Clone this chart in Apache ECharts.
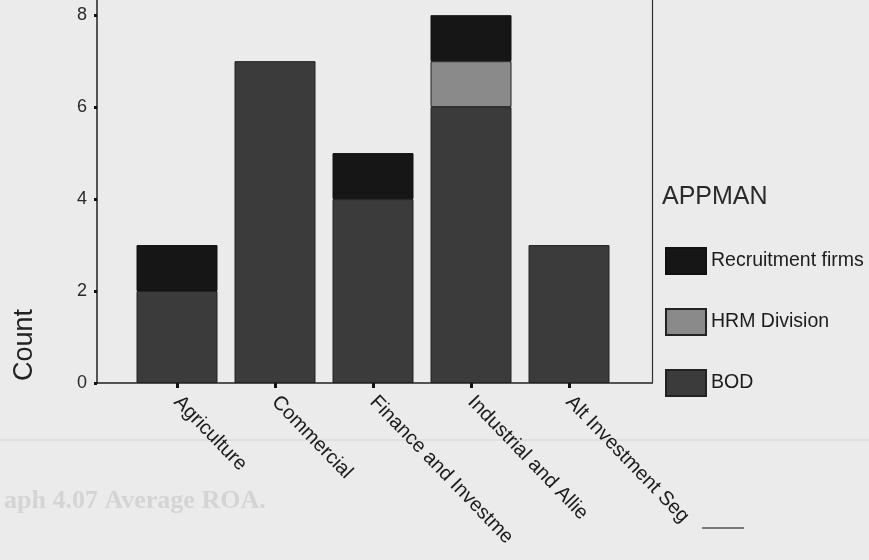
<!DOCTYPE html>
<html>
<head>
<meta charset="utf-8">
<script src="https://cdn.jsdelivr.net/npm/echarts@6/dist/echarts.min.js"></script>
<style>
  html, body { margin: 0; padding: 0; background: #ebebeb; }
  #chart { width: 869px; height: 560px; }
</style>
</head>
<body>
<div id="chart"></div>
<script>
// Sectors on the x axis
const categories = ['Agriculture', 'Commercial', 'Finance and Investme', 'Industrial and Allie', 'Alt Investment Seg'];

// Counts per appointing body (APPMAN), stacked bottom to top
const bod = [2, 7, 4, 6, 3];
const hrmDivision = [0, 0, 0, 1, 0];
const recruitmentFirms = [1, 0, 1, 1, 0];

// Y axis ticks
const yTicks = [0, 2, 4, 6, 8];

const legendTitle = 'APPMAN';
const yName = 'Count';

const FONT = '"Liberation Sans", Arial, sans-serif';
const INK = '#1c1c1c';
const Y_MAX = 8.33;

// empty stack segments are left out so they leave no outline
const seg = arr => arr.map(v => (v === 0 ? null : v));

const chart = echarts.init(document.getElementById('chart'), null, { renderer: 'canvas' });

chart.setOption({
  backgroundColor: '#ebebeb',
  animation: false,
  textStyle: { fontFamily: FONT },
  title: {
    text: legendTitle,
    left: 657,
    top: 180,
    textStyle: { fontFamily: FONT, fontSize: 25, fontWeight: 'normal', color: '#2a2a2a' }
  },
  legend: {
    orient: 'vertical',
    left: 665,
    top: 247,
    padding: 0,
    itemWidth: 40,
    itemHeight: 26,
    itemGap: 33,
    icon: 'rect',
    data: ['Recruitment firms', 'HRM Division', 'BOD'],
    textStyle: { fontFamily: FONT, fontSize: 19.5, color: INK, lineHeight: 26 }
  },
  grid: [
    // frame with the value axis
    { left: 97, right: 217, top: 0, bottom: 177 },
    // bars
    { left: 128, width: 490, top: 0, bottom: 177 }
  ],
  xAxis: [
    {
      gridIndex: 0, type: 'value', min: 0, max: 1,
      axisLine: { show: true, lineStyle: { color: '#202020', width: 1.5 } },
      axisTick: { show: false }, axisLabel: { show: false }, splitLine: { show: false }
    },
    {
      gridIndex: 1, type: 'category', data: categories,
      axisLine: { show: false },
      axisTick: { show: true, alignWithLabel: true, length: 5, lineStyle: { color: '#111', width: 3 } },
      axisLabel: {
        rotate: -46, margin: 16, fontFamily: FONT, fontSize: 20, color: INK, interval: 0
      },
      splitLine: { show: false }
    }
  ],
  yAxis: [
    {
      gridIndex: 0, type: 'value', min: 0, max: Y_MAX, interval: 2,
      axisLine: { show: true, lineStyle: { color: '#202020', width: 1.5 } },
      axisTick: { show: true, length: 3, lineStyle: { color: '#111', width: 3 } },
      axisLabel: {
        show: true, margin: 10, fontFamily: FONT, fontSize: 18, color: '#2a2a2a',
        showMaxLabel: false,
        formatter: v => (yTicks.includes(v) ? String(v) : '')
      },
      splitLine: { show: false }
    },
    {
      // right edge of the frame
      gridIndex: 0, type: 'value', min: 0, max: Y_MAX, position: 'right',
      axisLine: { show: true, lineStyle: { color: '#303030', width: 1.2 } },
      axisTick: { show: false }, axisLabel: { show: false }, splitLine: { show: false }
    },
    {
      gridIndex: 1, type: 'value', min: 0, max: Y_MAX, show: false
    }
  ],
  series: [
    {
      name: 'BOD', type: 'bar', stack: 'appman', xAxisIndex: 1, yAxisIndex: 2,
      barWidth: 81, data: seg(bod),
      itemStyle: { color: '#3b3b3b', borderColor: '#222', borderWidth: 1 }
    },
    {
      name: 'HRM Division', type: 'bar', stack: 'appman', xAxisIndex: 1, yAxisIndex: 2,
      barWidth: 81, data: seg(hrmDivision),
      itemStyle: { color: '#8a8a8a', borderColor: '#222', borderWidth: 1 }
    },
    {
      name: 'Recruitment firms', type: 'bar', stack: 'appman', xAxisIndex: 1, yAxisIndex: 2,
      barWidth: 81, data: seg(recruitmentFirms),
      itemStyle: { color: '#161616', borderColor: '#111', borderWidth: 1 }
    }
  ],
  graphic: [
    {
      type: 'text', left: 11, top: 309, rotation: Math.PI / 2,
      style: { text: yName, font: '27px ' + FONT, fill: '#222' }
    },
    {
      type: 'text', left: 4, top: 488,
      style: { text: 'aph 4.07 Average ROA.', font: 'bold 26px "Liberation Serif", serif', fill: '#d4d4d4' }
    },
    {
      type: 'line', shape: { x1: 0, y1: 440, x2: 869, y2: 440 },
      style: { stroke: '#dcdcdc', lineWidth: 1.5 }
    },
    {
      type: 'line', shape: { x1: 702, y1: 528, x2: 744, y2: 528 },
      style: { stroke: '#555', lineWidth: 1.5 }
    }
  ]
});
</script>
</body>
</html>
